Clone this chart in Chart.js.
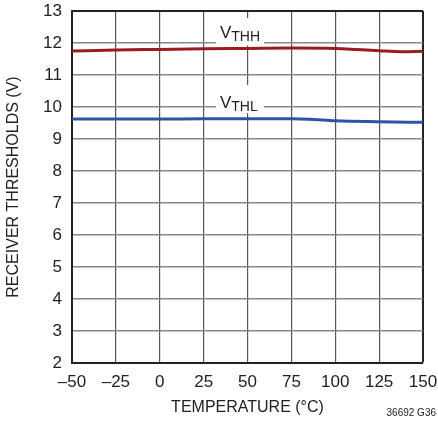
<!DOCTYPE html>
<html>
<head>
<meta charset="utf-8">
<script src="https://cdn.jsdelivr.net/npm/chart.js@4"></script>
<style>
  html, body { margin: 0; padding: 0; background: #fff; }
  #wrap { width: 438px; height: 429px; }
</style>
</head>
<body>
<div id="wrap"><canvas id="chart" width="438" height="429"></canvas></div>
<script>
const FONT = "'Liberation Sans Narrow', 'Arial Narrow', 'Liberation Sans', sans-serif";

// temperature (°C) and thresholds (V)
const tempsHigh = [-50, -25, 0, 25, 50, 75, 100, 112, 125, 138, 150];
const vthh = [11.75, 11.78, 11.80, 11.82, 11.83, 11.84, 11.83, 11.80, 11.76, 11.73, 11.74];
const tempsLow = [-50, -25, 0, 25, 50, 75, 85, 100, 125, 150];
const vthl = [9.625, 9.625, 9.625, 9.63, 9.63, 9.63, 9.62, 9.57, 9.54, 9.52];

const xTicks = [-50, -25, 0, 25, 50, 75, 100, 125, 150];
const yTicks = [2, 3, 4, 5, 6, 7, 8, 9, 10, 11, 12, 13];

const toPoints = (xs, ys) => xs.map((x, i) => ({ x: x, y: ys[i] }));

// curve labels with white box over the grid
const curveLabels = [
  { main: "V", sub: "THH", x: 34.3, y: 12.16, box: [32, 59.4, 12.78, 11.92] },
  { main: "V", sub: "THL", x: 34.3, y: 9.97, box: [32, 59.4, 10.69, 9.81] }
];

const labelPlugin = {
  id: "curveLabels",
  beforeDatasetsDraw(chart) {
    const ctx = chart.ctx;
    const xs = chart.scales.x, ys = chart.scales.y;
    ctx.save();
    curveLabels.forEach(l => {
      const x0 = xs.getPixelForValue(l.box[0]), x1 = xs.getPixelForValue(l.box[1]);
      const y0 = ys.getPixelForValue(l.box[2]), y1 = ys.getPixelForValue(l.box[3]);
      ctx.fillStyle = "#fff";
      ctx.fillRect(x0, y0, x1 - x0, y1 - y0);
      const px = xs.getPixelForValue(l.x), py = ys.getPixelForValue(l.y);
      ctx.fillStyle = "#222";
      ctx.textBaseline = "alphabetic";
      ctx.textAlign = "left";
      ctx.font = "17px " + FONT;
      ctx.fillText(l.main, px, py);
      const w = ctx.measureText(l.main).width;
      ctx.font = "14px " + FONT;
      ctx.fillText(l.sub, px + w, py + 3);
    });
    ctx.restore();
  },
  afterDraw(chart) {
    const ctx = chart.ctx;
    ctx.save();
    ctx.fillStyle = "#222";
    ctx.font = "10px " + FONT;
    ctx.textAlign = "right";
    ctx.textBaseline = "alphabetic";
    ctx.fillText("36692 G36", 436, 416);
    ctx.restore();
  }
};

new Chart(document.getElementById("chart"), {
  type: "line",
  data: {
    datasets: [
      {
        label: "VTHH",
        data: toPoints(tempsHigh, vthh),
        borderColor: "#9a1c21",
        borderWidth: 3,
        pointRadius: 0,
        cubicInterpolationMode: "monotone",
        fill: false
      },
      {
        label: "VTHL",
        data: toPoints(tempsLow, vthl),
        borderColor: "#2e55a5",
        borderWidth: 3,
        pointRadius: 0,
        cubicInterpolationMode: "monotone",
        fill: false
      }
    ]
  },
  options: {
    responsive: false,
    animation: false,
    layout: { padding: { left: 0, top: 11, right: 15, bottom: 0 } },
    plugins: { legend: { display: false }, tooltip: { enabled: false } },
    scales: {
      x: {
        type: "linear",
        min: -50,
        max: 150,
        afterBuildTicks: s => { s.ticks = xTicks.map(v => ({ value: v })); },
        afterFit: s => { s.height = 66; s.paddingLeft = 0; s.paddingRight = 0; },
        ticks: {
          color: "#222",
          padding: 9,
          font: { family: FONT, size: 17 },
          callback: v => String(v).replace("-", "\u2013")
        },
        grid: {
          drawTicks: false,
          color: c => (c.tick && c.tick.value === 150 ? "#222" : "#555"),
          lineWidth: c => (c.tick && c.tick.value === 150 ? 2 : 1.2)
        },
        border: { color: "#222", width: 2 },
        title: {
          display: true,
          text: "TEMPERATURE (°C)",
          color: "#222",
          font: { family: FONT, size: 16 },
          padding: { top: 0, bottom: 12 }
        }
      },
      y: {
        min: 2,
        max: 13,
        afterBuildTicks: s => { s.ticks = yTicks.map(v => ({ value: v })); },
        afterFit: s => { s.width = 72; s.paddingTop = 0; s.paddingBottom = 0; },
        ticks: {
          color: "#222",
          padding: 10,
          font: { family: FONT, size: 17 }
        },
        grid: {
          drawTicks: false,
          color: c => (c.tick && c.tick.value === 13 ? "#222" : "#888"),
          lineWidth: c => (c.tick && c.tick.value === 13 ? 2 : 1.5)
        },
        border: { color: "#222", width: 2 },
        title: {
          display: true,
          text: "RECEIVER THRESHOLDS (V)",
          color: "#222",
          font: { family: FONT, size: 16 },
          padding: { top: 4, bottom: 0 }
        }
      }
    }
  },
  plugins: [labelPlugin]
});
</script>
</body>
</html>
